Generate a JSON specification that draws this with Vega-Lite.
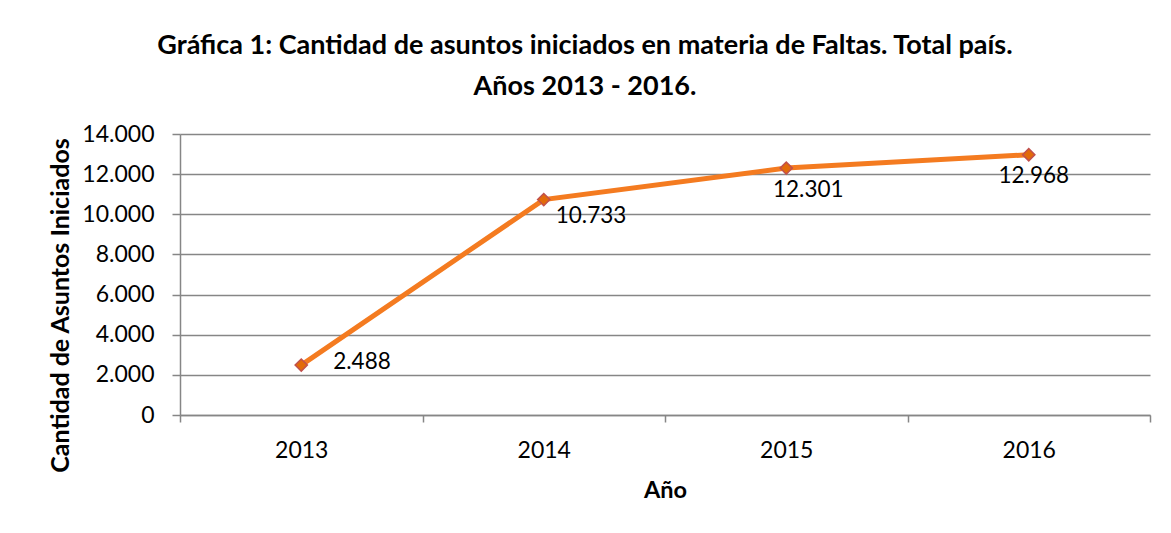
{
  "$schema": "https://vega.github.io/schema/vega-lite/v6.json",
  "width": 970,
  "height": 281,
  "autosize": {"type": "none"},
  "padding": {"left": 180, "top": 134, "right": 21, "bottom": 118},
  "background": "white",
  "title": {
    "text": ["Gráfica 1: Cantidad de asuntos iniciados en materia de Faltas. Total país.", "Años 2013 - 2016."],
    "anchor": "middle",
    "frame": "group",
    "dx": -80,
    "offset": 22,
    "lineHeight": 41,
    "font": "Lato",
    "fontSize": 27,
    "fontWeight": "bold",
    "color": "black"
  },
  "data": {
    "values": [
      {"Año": "2013", "Asuntos": 2488},
      {"Año": "2014", "Asuntos": 10733},
      {"Año": "2015", "Asuntos": 12301},
      {"Año": "2016", "Asuntos": 12968}
    ]
  },
  "encoding": {
    "x": {
      "field": "Año",
      "type": "ordinal",
      "bandPosition": 0.5,
      "scale": {"type": "band", "paddingInner": 0, "paddingOuter": 0},
      "axis": {
        "title": "Año",
        "labelAngle": 0,
        "tickBand": "extent",
        "tickSize": 7,
        "tickColor": "#868686",
        "tickWidth": 1.5,
        "domainColor": "#868686",
        "domainWidth": 1.5,
        "grid": false,
        "labelFont": "Lato",
        "labelFontSize": 23,
        "labelColor": "black",
        "labelBaseline": "middle",
        "labelPadding": 28,
        "titleFont": "Lato",
        "titleFontSize": 23.5,
        "titleFontWeight": "bold",
        "titleColor": "black",
        "titleBaseline": "middle",
        "titleY": 75
      }
    },
    "y": {
      "field": "Asuntos",
      "type": "quantitative",
      "scale": {"domain": [0, 14000], "nice": false},
      "axis": {
        "title": "Cantidad de Asuntos Iniciados",
        "values": [0, 2000, 4000, 6000, 8000, 10000, 12000, 14000],
        "format": ",.0f",
        "grid": true,
        "gridColor": "#868686",
        "gridWidth": 1.5,
        "tickSize": 8,
        "tickColor": "#868686",
        "tickWidth": 1.5,
        "domainColor": "#868686",
        "domainWidth": 1.5,
        "labelFont": "Lato",
        "labelFontSize": 23,
        "labelColor": "black",
        "labelPadding": 18,
        "titleFont": "Lato",
        "titleFontSize": 25,
        "titleFontWeight": "bold",
        "titleColor": "black",
        "titleAngle": 270,
        "titleAlign": "center",
        "titleBaseline": "middle",
        "titleX": -120,
        "titleY": 171
      }
    }
  },
  "layer": [
    {"mark": {"type": "line", "color": "#F47B20", "strokeWidth": 5}},
    {"mark": {"type": "point", "shape": "diamond", "size": 150, "filled": true, "fill": "#E26B0A", "stroke": "#C0504D", "strokeWidth": 1.5, "opacity": 1}},
    {
      "transform": [{"filter": "datum['Año'] == '2013'"}],
      "mark": {"type": "text", "align": "left", "baseline": "middle", "dx": 32, "dy": -3, "font": "Lato", "fontSize": 22.5, "color": "black"},
      "encoding": {"text": {"field": "Asuntos", "type": "quantitative", "format": ",.0f"}}
    },
    {
      "transform": [{"filter": "datum['Año'] == '2014'"}],
      "mark": {"type": "text", "align": "left", "baseline": "middle", "dx": 12, "dy": 16, "font": "Lato", "fontSize": 22.5, "color": "black"},
      "encoding": {"text": {"field": "Asuntos", "type": "quantitative", "format": ",.0f"}}
    },
    {
      "transform": [{"filter": "datum['Año'] == '2015'"}],
      "mark": {"type": "text", "align": "center", "baseline": "middle", "dx": 22, "dy": 22, "font": "Lato", "fontSize": 22.5, "color": "black"},
      "encoding": {"text": {"field": "Asuntos", "type": "quantitative", "format": ",.0f"}}
    },
    {
      "transform": [{"filter": "datum['Año'] == '2016'"}],
      "mark": {"type": "text", "align": "center", "baseline": "middle", "dx": 5, "dy": 21, "font": "Lato", "fontSize": 22.5, "color": "black"},
      "encoding": {"text": {"field": "Asuntos", "type": "quantitative", "format": ",.0f"}}
    }
  ],
  "config": {
    "view": {"stroke": null},
    "locale": {"number": {"decimal": ",", "thousands": ".", "grouping": [3], "currency": ["", ""]}}
  }
}
